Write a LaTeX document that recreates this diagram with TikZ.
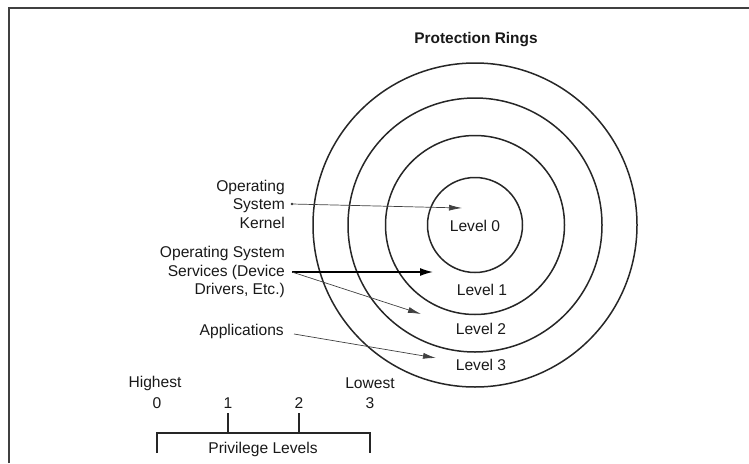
\documentclass[tikz,border=0pt]{standalone}
\usepackage{fontspec}
\setmainfont{Liberation Sans}
\usetikzlibrary{arrows.meta}
\begin{document}
\begin{tikzpicture}[x=1pt,y=-1pt,
  every node/.style={font=\fontsize{15.6}{18.5}\selectfont, inner sep=0pt, text=black!90},
  ring/.style={circle, draw=black!85, line width=1.5pt, minimum size=#1, inner sep=0pt},
  lbl/.style={anchor=east, align=right},
  thinarrow/.style={draw=black!75, line width=0.7pt, -{Latex[length=13pt,width=6pt]}},
  thickarrow/.style={draw=black, line width=1.4pt, -{Latex[length=13pt,width=8pt]}},
  frame/.style={draw=black!75, line width=1.6pt},
  tick/.style={draw=black!85, line width=1.4pt}
]
\useasboundingbox (0,0) rectangle (749,463);
% frame (top and left edges)
\draw[frame] (9,463) -- (9,8) -- (749,8);
% title
\node[font=\fontsize{15.4}{18}\selectfont\bfseries] (title) at (476,40) {Protection Rings};
% rings
\node[ring=324pt] (r3) at (475,225) {};
\node[ring=254pt] (r2) at (475,225) {};
\node[ring=179pt] (r1) at (475,225) {};
\node[ring=95pt]  (r0) at (475,225) {};
% level labels
\node (l0) at (475,226) {Level 0};
\node (l1) at (482,290) {Level 1};
\node (l2) at (481,329) {Level 2};
\node (l3) at (481,365) {Level 3};
% left labels
\node[lbl] (kernel) at (285,204) {Operating\\System\\Kernel};
\node[lbl] (services) at (285,272) {Operating System\\Services (Device\\Drivers, Etc.)};
\node[lbl] (apps) at (284,331) {Applications};
% arrow targets
\coordinate (tk) at (462,208);
\coordinate (ts1) at (433,272);
\coordinate (ts2) at (421,314);
\coordinate (ta) at (436,358);
% arrows
\fill[black!80] ([xshift=7pt]kernel.east) circle (1.3pt);
\draw[thinarrow] ([xshift=7pt]kernel.east) -- (tk);
\draw[thickarrow] ([xshift=7pt]services.east) -- (ts1);
\draw[thinarrow] ([xshift=7pt]services.east) -- (ts2);
\draw[thinarrow] ([xshift=10pt,yshift=-3pt]apps.east) -- (ta);
% privilege scale
\node (highest) at (155,383) {Highest};
\node (lowest) at (370,383) {Lowest};
\node (n0) at (157,403) {0};
\node (n1) at (228,403) {1};
\node (n2) at (299,403) {2};
\node (n3) at (370,403) {3};
\coordinate (b0) at (157,433);
\coordinate (b3) at (370,433);
\draw[tick] ([yshift=-20pt]b0) -- (b0) -- (b3) -- ([yshift=-20pt]b3);
\draw[tick] (228,413) -- (228,433);
\draw[tick] (299,413) -- (299,433);
\node (priv) at (263,449) {Privilege Levels};
\end{tikzpicture}
\end{document}
